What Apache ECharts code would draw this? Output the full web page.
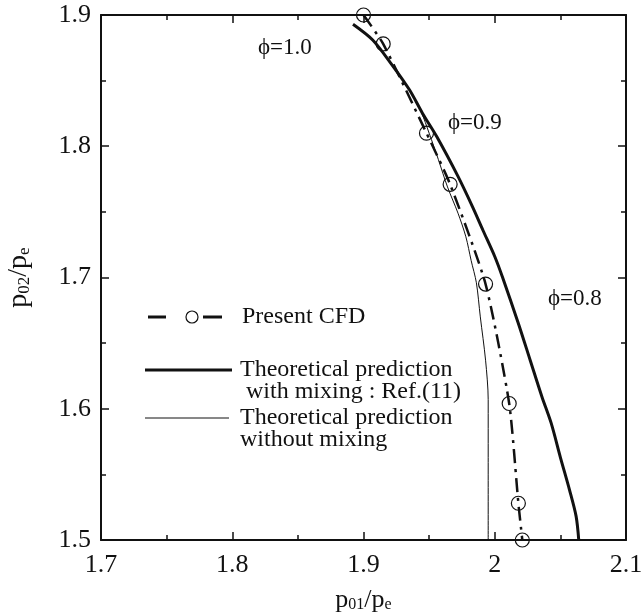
<!DOCTYPE html>
<html>
<head>
<meta charset="utf-8">
<script src="https://cdn.jsdelivr.net/npm/echarts@6/dist/echarts.min.js"></script>
<style>
  html, body { margin: 0; padding: 0; background: #fff; }
  #chart { width: 642px; height: 614px; }
</style>
</head>
<body>
<div id="chart"></div>
<script>
// axis ticks
var xTicks = [1.7, 1.8, 1.9, 2.0, 2.1];
var yTicks = [1.5, 1.6, 1.7, 1.8, 1.9];

// Present CFD (circles)
var cfdX = [1.900, 1.915, 1.948, 1.966, 1.993, 2.011, 2.018, 2.021];
var cfdY = [1.900, 1.878, 1.810, 1.771, 1.695, 1.604, 1.528, 1.500];

// Theoretical prediction with mixing : Ref.(11)
var mixX = [1.892, 1.907, 1.921, 1.935, 1.945, 1.956, 1.972, 1.983, 1.991, 2.000, 2.006, 2.018, 2.027, 2.036, 2.043, 2.050, 2.057, 2.062, 2.064];
var mixY = [1.893, 1.881, 1.863, 1.843, 1.825, 1.807, 1.777, 1.754, 1.736, 1.716, 1.700, 1.665, 1.637, 1.609, 1.589, 1.563, 1.538, 1.518, 1.500];

// Theoretical prediction without mixing
var noMixX = [1.892, 1.907, 1.921, 1.935, 1.944, 1.950, 1.957, 1.964, 1.972, 1.978, 1.982, 1.986, 1.989, 1.993, 1.995, 1.995, 1.995];
var noMixY = [1.893, 1.881, 1.863, 1.843, 1.826, 1.810, 1.790, 1.769, 1.749, 1.731, 1.713, 1.696, 1.670, 1.637, 1.607, 1.563, 1.500];

var phiLabels = ["\u03d5=1.0", "\u03d5=0.9", "\u03d5=0.8"];

function zip(a, b) {
  return a.map(function (v, i) { return [v, b[i]]; });
}

var serif = "'Liberation Serif', 'Times New Roman', serif";
var black = "#111";

function tickFmt(list) {
  return function (v) {
    for (var i = 0; i < list.length; i++) {
      if (Math.abs(list[i] - v) < 1e-6) return String(+list[i].toFixed(1));
    }
    return "";
  };
}

var baseAxis = {
  type: "value",
  interval: 0.1,
  axisLine: { show: true, onZero: false, lineStyle: { color: black, width: 2 } },
  axisTick: { show: true, inside: true, length: 8, lineStyle: { color: black, width: 1.5 } },
  minorTick: { show: true, splitNumber: 2, length: 5, lineStyle: { color: black, width: 1.5 } },
  splitLine: { show: false },
  minorSplitLine: { show: false }
};

var chart = echarts.init(document.getElementById("chart"));

chart.setOption({
  backgroundColor: "#fff",
  animation: false,
  grid: { left: 101, right: 16, top: 15, bottom: 74, outerBoundsMode: "none", containLabel: false },
  xAxis: [
    Object.assign({}, baseAxis, {
      min: xTicks[0], max: xTicks[xTicks.length - 1],
      position: "bottom",
      axisLabel: { color: black, fontFamily: serif, fontSize: 26, margin: 12, formatter: tickFmt(xTicks) },
      name: "p{s|01}/p{s|e}",
      nameLocation: "middle",
      nameGap: 47,
      nameTextStyle: {
        color: black, fontFamily: serif, fontSize: 26,
        rich: { s: { fontFamily: serif, fontSize: 16, verticalAlign: "bottom", padding: [8, 0, 0, 0] } }
      }
    }),
    Object.assign({}, baseAxis, {
      min: xTicks[0], max: xTicks[xTicks.length - 1],
      position: "top",
      axisLabel: { show: false }
    })
  ],
  yAxis: [
    Object.assign({}, baseAxis, {
      min: yTicks[0], max: yTicks[yTicks.length - 1],
      position: "left",
      axisLabel: { color: black, fontFamily: serif, fontSize: 26, margin: 10, formatter: tickFmt(yTicks) },
      name: "p{s|02}/p{s|e}",
      nameLocation: "middle",
      nameGap: 68,
      nameTextStyle: {
        color: black, fontFamily: serif, fontSize: 28,
        rich: { s: { fontFamily: serif, fontSize: 17, verticalAlign: "bottom", padding: [8, 0, 0, 0] } }
      }
    }),
    Object.assign({}, baseAxis, {
      min: yTicks[0], max: yTicks[yTicks.length - 1],
      position: "right",
      axisLabel: { show: false }
    })
  ],
  series: [
    {
      name: "Theoretical prediction without mixing",
      type: "line",
      data: zip(noMixX, noMixY),
      symbol: "none",
      smooth: 0.3,
      lineStyle: { color: black, width: 1 },
      z: 2
    },
    {
      name: "Theoretical prediction with mixing : Ref.(11)",
      type: "line",
      data: zip(mixX, mixY),
      symbol: "none",
      smooth: 0.3,
      lineStyle: { color: black, width: 3 },
      z: 3
    },
    {
      name: "Present CFD",
      type: "line",
      data: zip(cfdX, cfdY),
      symbol: "circle",
      symbolSize: 14,
      showSymbol: true,
      smooth: 0.2,
      clip: false,
      lineStyle: { color: black, width: 2.5, type: [14, 6, 3, 6] },
      itemStyle: { color: "rgba(255,255,255,0)", borderColor: black, borderWidth: 1.2 },
      z: 4
    }
  ],
  graphic: [
    // phi annotations
    { type: "text", left: 258, top: 36, style: { text: phiLabels[0], font: "23px " + serif, fill: black } },
    { type: "text", left: 448, top: 111, style: { text: phiLabels[1], font: "23px " + serif, fill: black } },
    { type: "text", left: 548, top: 287, style: { text: phiLabels[2], font: "23px " + serif, fill: black } },
    // legend: Present CFD
    { type: "line", shape: { x1: 148, y1: 317, x2: 166, y2: 317 }, style: { stroke: black, lineWidth: 3 } },
    { type: "circle", shape: { cx: 192, cy: 317, r: 6 }, style: { stroke: black, lineWidth: 1.2, fill: "#fff" } },
    { type: "line", shape: { x1: 203, y1: 317, x2: 222, y2: 317 }, style: { stroke: black, lineWidth: 3 } },
    { type: "text", x: 242, y: 317, style: { text: "Present CFD", font: "24px " + serif, fill: black, textVerticalAlign: "middle" } },
    // legend: with mixing
    { type: "line", shape: { x1: 145, y1: 370, x2: 232, y2: 370 }, style: { stroke: black, lineWidth: 3 } },
    { type: "text", x: 240, y: 359, style: { text: "Theoretical prediction\n with mixing : Ref.(11)", font: "24px " + serif, fill: black, lineHeight: 22 } },
    // legend: without mixing
    { type: "line", shape: { x1: 145, y1: 418, x2: 229, y2: 418 }, style: { stroke: black, lineWidth: 1 } },
    { type: "text", x: 240, y: 407, style: { text: "Theoretical prediction\nwithout mixing", font: "24px " + serif, fill: black, lineHeight: 22 } }
  ]
});
</script>
</body>
</html>
